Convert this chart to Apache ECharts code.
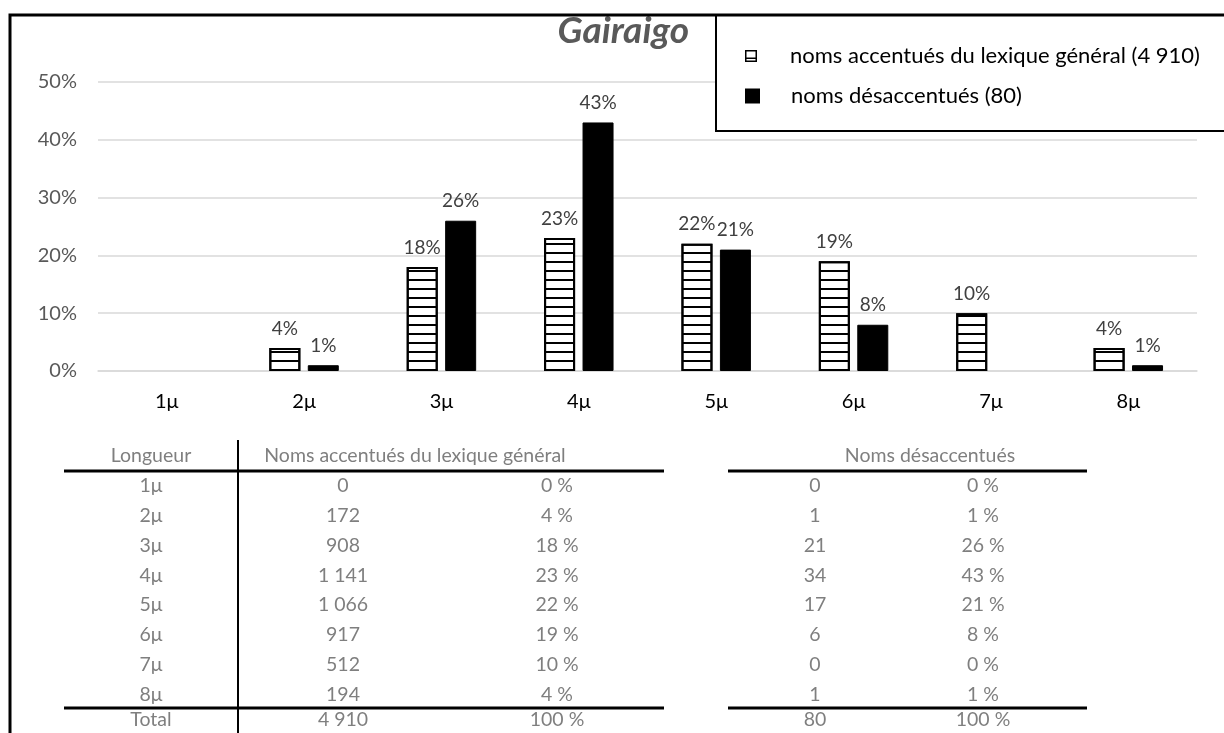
<!DOCTYPE html>
<html>
<head>
<meta charset="utf-8">
<script src="https://cdn.jsdelivr.net/npm/echarts@6/dist/echarts.min.js"></script>
<style>
html,body{margin:0;padding:0;background:#fff;}
#chart{width:1224px;height:733px;}
</style>
</head>
<body>
<div id="chart"></div>
<script>
// ---- data ----
const lengths = ['1μ','2μ','3μ','4μ','5μ','6μ','7μ','8μ'];
const countsAccent = [0, 172, 908, 1141, 1066, 917, 512, 194];
const pctAccent = [0, 4, 18, 23, 22, 19, 10, 4];
const countsDeacc = [0, 1, 21, 34, 17, 6, 0, 1];
const pctDeacc = [0, 1, 26, 43, 21, 8, 0, 1];
const totalAccent = 4910;
const totalDeacc = 80;
const yTicks = [0, 10, 20, 30, 40, 50];
const nameAccent = 'noms accentués du lexique général (4 910)';
const nameDeacc = 'noms désaccentués (80)';
const titleText = 'Gairaigo';
const headers = ['Longueur', 'Noms accentués du lexique général', 'Noms désaccentués'];
const totalLabel = 'Total';

// ---- layout / style ----
const FONT = 'Lato, "Open Sans", sans-serif';
const fmtNum = n => String(n).replace(/\B(?=(\d{3})+(?!\d))/g, ' ');
const fmtPct = n => n + ' %';
const hideZero = arr => arr.map(v => (v === 0 ? null : v));

const chart = echarts.init(document.getElementById('chart'));

const tableColor = '#7f7f7f';
const tableFont = 19.5;
const colX = [151, 343, 557, 815, 983];
const headerY = 456;
const rowY0 = 486;
const rowStep = 29.8;
const graphics = [];

function txt(x, y, s) {
  graphics.push({
    type: 'text', x: x, y: y, z: 10,
    style: { text: s, fill: tableColor, font: tableFont + 'px ' + FONT, align: 'center', verticalAlign: 'middle' }
  });
}
function line(x1, y1, x2, y2, w) {
  graphics.push({ type: 'line', z: 10, shape: { x1: x1, y1: y1, x2: x2, y2: y2 }, style: { stroke: '#000', lineWidth: w } });
}

// outer frame
graphics.push({ type: 'polyline', z: 10, shape: { points: [[10, 733], [10, 15], [1224, 15]] }, style: { stroke: '#000', lineWidth: 3, fill: null } });
// legend box
graphics.push({ type: 'rect', z: 3, shape: { x: 716, y: 15, width: 530, height: 116 }, style: { stroke: '#000', lineWidth: 2, fill: '#fff' } });

// table
txt(colX[0], headerY, headers[0]);
txt(415, headerY, headers[1]);
txt(930, headerY, headers[2]);
lengths.forEach((l, i) => {
  const y = rowY0 + i * rowStep;
  txt(colX[0], y, l);
  txt(colX[1], y, fmtNum(countsAccent[i]));
  txt(colX[2], y, fmtPct(pctAccent[i]));
  txt(colX[3], y, fmtNum(countsDeacc[i]));
  txt(colX[4], y, fmtPct(pctDeacc[i]));
});
const totalY = 720;
txt(colX[0], totalY, totalLabel);
txt(colX[1], totalY, fmtNum(totalAccent));
txt(colX[2], totalY, fmtPct(100));
txt(colX[3], totalY, fmtNum(totalDeacc));
txt(colX[4], totalY, fmtPct(100));
line(64, 471, 664, 471, 3);
line(728, 471, 1087, 471, 3);
line(64, 708, 664, 708, 3);
line(728, 708, 1087, 708, 3);
line(238, 440, 238, 733, 2);

const labelOpt = {
  show: true, position: 'top', distance: 10,
  fontFamily: FONT, fontSize: 19, color: '#404040',
  formatter: p => (p.value ? p.value + '%' : '')
};

const hatchIcon = 'path://M0,0H12V12H0Z M1.5,1.5V7.5H10.5V1.5Z M1.5,9V10.5H10.5V9Z';

chart.setOption({
  animation: false,
  backgroundColor: '#fff',
  textStyle: { fontFamily: FONT },
  title: {
    text: titleText, right: 530, top: 8,
    textStyle: { fontFamily: FONT, fontSize: 37, fontWeight: 'bold', fontStyle: 'italic', color: '#595959' }
  },
  legend: [
    { data: [{ name: nameAccent, icon: hatchIcon, itemStyle: { color: '#000', borderWidth: 0 } }],
      left: 740, top: 40, itemWidth: 12, itemHeight: 12, z: 5,
      itemStyle: { color: '#000', borderWidth: 0, decal: 'none' },
      textStyle: { fontFamily: FONT, fontSize: 22, color: '#000', padding: [0, 0, 0, 28] } },
    { data: [{ name: nameDeacc, icon: 'rect' }],
      left: 740, top: 80, itemWidth: 13, itemHeight: 13, z: 5,
      textStyle: { fontFamily: FONT, fontSize: 22, color: '#000', padding: [0, 0, 0, 27] } }
  ],
  grid: { left: 98, right: 27, top: 82, bottom: 362 },
  xAxis: {
    type: 'category', data: lengths,
    axisLine: { lineStyle: { color: '#d9d9d9', width: 1.5 } },
    axisTick: { show: false },
    axisLabel: { fontFamily: FONT, fontSize: 20, color: '#000', margin: 21 }
  },
  yAxis: {
    type: 'value', min: yTicks[0], max: yTicks[yTicks.length - 1], interval: yTicks[1] - yTicks[0],
    axisLine: { show: false }, axisTick: { show: false },
    axisLabel: { fontFamily: FONT, fontSize: 20, color: '#595959', margin: 21, formatter: '{value}%' },
    splitLine: { lineStyle: { color: '#d9d9d9', width: 1.5 } }
  },
  series: [
    {
      name: nameAccent, type: 'bar', data: hideZero(pctAccent), barWidth: 31, barGap: '24%',
      itemStyle: {
        color: '#fff', borderColor: '#000', borderWidth: 2,
        decal: { symbol: 'rect', symbolSize: 1, dashArrayX: [1, 0], dashArrayY: [2, 6.6], color: '#000', rotation: 0 }
      },
      label: labelOpt
    },
    {
      name: nameDeacc, type: 'bar', data: hideZero(pctDeacc), barWidth: 31,
      itemStyle: { color: '#000', borderColor: '#000', borderWidth: 1 },
      label: labelOpt
    }
  ],
  graphic: graphics
});
</script>
</body>
</html>
